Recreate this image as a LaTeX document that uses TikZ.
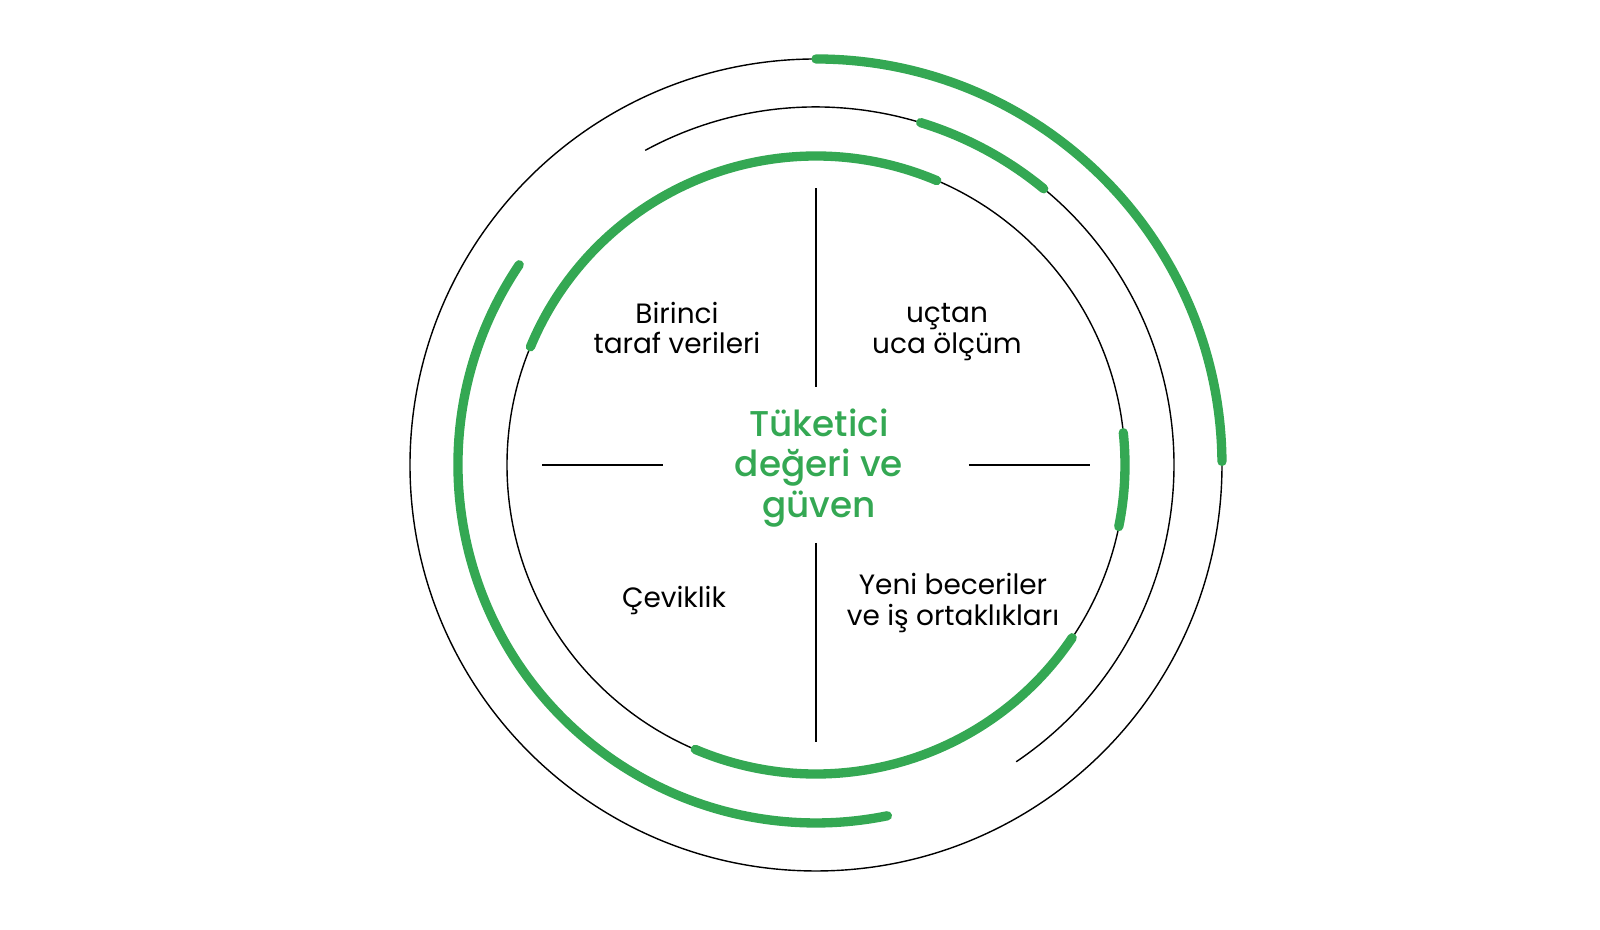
\documentclass[tikz,border=0pt]{standalone}
\usepackage{fontspec}
\setmainfont{Poppins}
\newfontfamily\titlefont{Poppins Medium}
\usetikzlibrary{positioning}
\definecolor{ggreen}{HTML}{34A853}

\begin{document}
\begin{tikzpicture}[x=0.1mm, y=0.1mm,
	thin ring/.style={draw=black, line width=0.4pt},
	green ring/.style={draw=ggreen, line width=2.65pt, line cap=round},
	spoke/.style={draw=black, line width=0.45pt},
	quarter/.style={align=center, inner sep=0pt, font=\fontsize{7.95}{8.8}\selectfont},
	core/.style={align=center, inner sep=0pt, text=ggreen, font=\titlefont\fontsize{10.2}{11.5}\selectfont}
	]
	\useasboundingbox (-816,-465) rectangle (784,465);
	\coordinate (c) at (0,0);

	% thin rings
	\draw[thin ring] (c) circle[radius=406];
	\draw[thin ring] (c) circle[radius=309];
	\draw[thin ring] ([shift={(118.5:358)}]c) arc[start angle=118.5, end angle=-56, radius=358];

	% green arcs
	\draw[green ring] ([shift={(90:406)}]c) arc[start angle=90, end angle=0.5, radius=406];
	\draw[green ring] ([shift={(73:358)}]c) arc[start angle=73, end angle=50.5, radius=358];
	\draw[green ring] ([shift={(146:358)}]c) arc[start angle=146, end angle=281.5, radius=358];
	\draw[green ring] ([shift={(157.5:309)}]c) arc[start angle=157.5, end angle=67, radius=309];
	\draw[green ring] ([shift={(6:309)}]c) arc[start angle=6, end angle=-11.5, radius=309];
	\draw[green ring] ([shift={(-34:309)}]c) arc[start angle=-34, end angle=-113, radius=309];

	% spokes
	\coordinate (n1) at (0,78);   \coordinate (n2) at (0,277);
	\coordinate (s1) at (0,-78);  \coordinate (s2) at (0,-277);
	\coordinate (w1) at (-153,0); \coordinate (w2) at (-274,0);
	\coordinate (e1) at (153,0);  \coordinate (e2) at (274,0);
	\draw[spoke] (n1) -- (n2) (s1) -- (s2) (w1) -- (w2) (e1) -- (e2);

	% texts
	\node[core] (title) at (3,-3) {Tüketici\\değeri ve\\güven};
	\node[quarter] (data) at (-139,137) {Birinci\\taraf verileri};
	\node[quarter] (measure) at (131,133) {uçtan\\uca ölçüm};
	\node[quarter] (agility) at (-142,-136) {Çeviklik};
	\node[quarter] (skills) at (137,-138) {Yeni beceriler\\ve iş ortaklıkları};
\end{tikzpicture}
\end{document}
